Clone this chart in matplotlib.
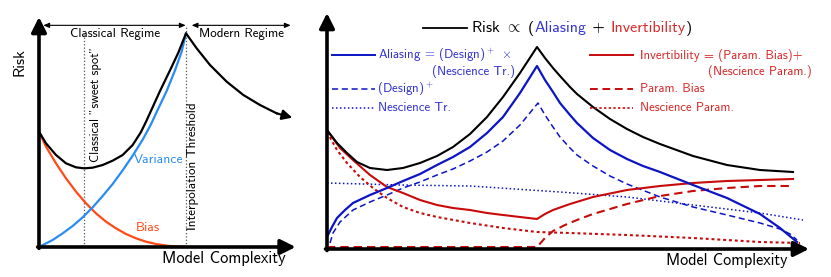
import matplotlib
matplotlib.use("Agg")
import matplotlib.pyplot as plt

plt.rcParams['font.family'] = ['cmss10', 'DejaVu Sans']
plt.rcParams['mathtext.fontset'] = 'cm'
plt.rcParams['axes.unicode_minus'] = False

# ---- left panel: classical bias / variance picture (units)
risk_x = [0, 21, 51, 81, 111, 136, 161, 191, 221, 251, 281, 306, 323, 343, 363,
          393, 418, 441, 473, 513, 563, 613, 663, 713, 745]
risk_y = [346, 311, 276, 251, 239, 236, 238, 246, 259, 276, 306, 345, 380, 424,
          468, 530, 583, 641, 596, 546, 496, 456, 426, 401, 392]
bias_x = [0, 21, 51, 81, 111, 141, 171, 201, 231, 261, 291, 321, 351, 391, 431,
          441]
bias_y = [346, 301, 251, 206, 166, 131, 101, 76, 56, 39, 26, 16, 9, 3, 1, 0]
var_x = [0, 41, 71, 101, 131, 161, 191, 221, 251, 281, 311, 336, 353, 383, 408,
         428, 441]
var_y = [0, 21, 41, 63, 89, 119, 153, 189, 230, 274, 322, 368, 405, 468, 530,
         586, 641]
sweet_spot = 136
interp_thr = 441

# ---- right panel: aliasing / invertibility decomposition
tot_x = [0, 10, 20, 30, 43, 60, 76, 93, 110, 126, 143, 160, 176, 193, 210, 218,
         226, 233, 243, 250, 266, 283, 300, 316, 333, 366, 400, 433, 466]
tot_y = [119, 106, 96, 87, 81, 79, 81, 86, 93, 102, 115, 132, 152, 176, 202,
         191, 181, 173, 162, 155, 142, 130, 120, 112, 105, 93, 84, 79, 77]
alias_x = [1, 5, 10, 18, 26, 43, 60, 76, 93, 110, 126, 143, 160, 176, 193, 210,
           218, 226, 233, 243, 250, 266, 283, 300, 316, 333, 366, 400, 433,
           453, 470]
alias_y = [14, 22, 31, 39, 46, 54, 61, 68, 75, 84, 92, 102, 116, 132, 156, 183,
           169, 157, 146, 134, 126, 111, 99, 90, 83, 77, 64, 51, 35, 21, 7]
design_x = [3, 6, 13, 26, 43, 60, 76, 93, 110, 126, 143, 160, 176, 193, 211,
            218, 226, 233, 243, 250, 266, 283, 300, 333, 366, 400, 433, 453,
            463, 470]
design_y = [6, 16, 27, 39, 47, 54, 61, 67, 74, 80, 88, 97, 108, 124, 146, 134,
            122, 112, 101, 94, 83, 73, 65, 52, 42, 34, 26, 20, 15, 9]
nestr_x = [0, 73, 143, 233, 300, 366, 433, 476]
nestr_y = [66, 64, 63, 57, 52, 44, 36, 29]
inv_x = [0, 13, 26, 43, 60, 76, 93, 110, 126, 143, 160, 176, 193, 210, 218,
         226, 243, 266, 300, 333, 366, 400, 433, 466]
inv_y = [119, 101, 89, 74, 62, 56, 49, 44, 41, 39, 36, 34, 32, 30, 35, 39, 45,
         52, 59, 63, 66, 68, 69, 70]
pbias_x = [0, 210, 218, 226, 238, 250, 266, 283, 300, 333, 366, 400, 433, 463]
pbias_y = [2, 2, 11, 18, 24, 29, 35, 40, 45, 53, 58, 61, 63, 63]
nespar_x = [0, 10, 20, 33, 46, 60, 76, 93, 110, 143, 176, 210, 243, 300, 366,
            433, 473]
nespar_y = [117, 99, 86, 72, 61, 51, 42, 36, 32, 26, 21, 17, 16, 14, 11, 7, 6]

c_var = '#2a8cf2'
c_bias = '#ff4a18'
c_blue = '#0c14c4'
c_bluetxt = '#3434d2'
c_red = '#c80a0a'
c_redtxt = '#d82a2a'

W, H = 831, 277
fig = plt.figure(figsize=(W / 100, H / 100), dpi=100)

# left axes: origin at pixel (39, 247), 3 units per pixel
ax1 = fig.add_axes([39 / W, 30 / H, 256 / W, 229 / H])
ax1.set_xlim(0, 768)
ax1.set_ylim(0, 687)
ax1.axis('off')

axis_arrow = dict(arrowstyle='-|>,head_length=0.9,head_width=0.45', lw=2.6,
                  color='k', shrinkA=0, shrinkB=0)
ax1.annotate('', xy=(770, 0), xytext=(-4, 0), arrowprops=axis_arrow,
             annotation_clip=False)
ax1.annotate('', xy=(0, 690), xytext=(0, -4), arrowprops=axis_arrow,
             annotation_clip=False)

ax1.plot([sweet_spot, sweet_spot], [0, 640], ':', color='#555555', lw=0.9)
ax1.plot([interp_thr, interp_thr], [0, 662], ':', color='#555555', lw=0.9)

ax1.plot(bias_x, bias_y, color=c_bias, lw=1.6, clip_on=False)
ax1.plot(var_x, var_y, color=c_var, lw=1.6, clip_on=False)
ax1.plot(risk_x[:-1], risk_y[:-1], color='k', lw=1.6, clip_on=False)
ax1.annotate('', xy=(risk_x[-1] + 15, risk_y[-1] - 4),
             xytext=(risk_x[-2], risk_y[-2]), annotation_clip=False,
             arrowprops=dict(arrowstyle='-|>,head_length=0.6,head_width=0.3',
                             lw=1.6, color='k', shrinkA=0, shrinkB=0))

dbl = dict(arrowstyle='<|-|>,head_length=0.35,head_width=0.15', lw=0.8,
           color='k', shrinkA=0, shrinkB=0)
ax1.annotate('', xy=(13, 665), xytext=(440, 665), arrowprops=dbl,
             annotation_clip=False)
ax1.annotate('', xy=(458, 665), xytext=(755, 665), arrowprops=dbl,
             annotation_clip=False)
ax1.text(228, 640, 'Classical Regime', ha='center', va='center', fontsize=9.4)
ax1.text(608, 640, 'Modern Regime', ha='center', va='center', fontsize=9.3)
ax1.text(170, 256, 'Classical "sweet spot"', rotation=90, ha='center',
         va='bottom', fontsize=9.1)
ax1.text(462, 52, 'Interpolation Threshold', rotation=90, ha='center',
         va='bottom', fontsize=9.4)
ax1.text(358, 262, 'Variance', color=c_var, ha='center', va='center',
         fontsize=9.8)
ax1.text(326, 58, 'Bias', color=c_bias, ha='center', va='center', fontsize=9.8)
ax1.text(-58, 555, 'Risk', rotation=90, ha='center', va='center', fontsize=11.5)
ax1.text(740, -33, 'Model Complexity', ha='right', va='center', fontsize=11.8)

# right axes: origin at pixel (327, 249), 1 unit per pixel
ax2 = fig.add_axes([327 / W, 28 / H, 480 / W, 234 / H])
ax2.set_xlim(0, 480)
ax2.set_ylim(0, 234)
ax2.axis('off')

ax2.annotate('', xy=(482, 0), xytext=(-1.5, 0), arrowprops=axis_arrow,
             annotation_clip=False)
ax2.annotate('', xy=(0, 236), xytext=(0, -1.5), arrowprops=axis_arrow,
             annotation_clip=False)

dots_b = (0, (1, 1.6))
dots_r = (0, (1.4, 1.4))
dash = (0, (4, 2.4))
ax2.plot(nestr_x, nestr_y, color=c_blue, lw=1.1, ls=dots_b, clip_on=False)
ax2.plot(nespar_x, nespar_y, color=c_red, lw=1.5, ls=dots_r, clip_on=False)
ax2.plot(pbias_x, pbias_y, color=c_red, lw=1.5, ls=dash, clip_on=False)
ax2.plot(design_x, design_y, color=c_blue, lw=1.1, ls=dash, clip_on=False)
ax2.plot(inv_x, inv_y, color=c_red, lw=1.5, clip_on=False)
ax2.plot(alias_x, alias_y, color=c_blue, lw=1.6, clip_on=False)
ax2.plot(tot_x, tot_y, color='k', lw=1.5, clip_on=False)

# multicoloured title line
ax2.plot([96, 140], [221, 221], color='k', lw=1.3, clip_on=False)
fig.canvas.draw()
renderer = fig.canvas.get_renderer()
pieces = [('Risk $\\propto$ (', 'k'), ('Aliasing', c_bluetxt), (' + ', 'k'),
          ('Invertibility', c_redtxt), (')', 'k')]
xd = 144
for s, c in pieces:
    t = ax2.text(xd, 217, s, color=c, ha='left', va='baseline', fontsize=11.5)
    bb = t.get_window_extent(renderer)
    xd = ax2.transData.inverted().transform((bb.x1, bb.y0))[0]

# legend, left block
ax2.plot([5, 48], [194, 194], color=c_blue, lw=1.4, clip_on=False)
ax2.text(51, 194, 'Aliasing$\\,=\\,$(Design)$^+\\;\\times$', color=c_bluetxt,
         va='center', fontsize=9.3)
ax2.text(188, 177, '(Nescience Tr.)', color=c_bluetxt, ha='right',
         va='center', fontsize=9.3)
ax2.plot([5, 48], [160, 160], color=c_blue, lw=1.1, ls=dash, clip_on=False)
ax2.text(50, 160, '(Design)$^+$', color=c_bluetxt, va='center', fontsize=9.3)
ax2.plot([5, 48], [141, 141], color=c_blue, lw=1.1, ls=dots_b, clip_on=False)
ax2.text(51, 141, 'Nescience Tr.', color=c_bluetxt, va='center', fontsize=9.3)

# legend, right block
ax2.plot([263, 306], [194, 194], color=c_red, lw=1.4, clip_on=False)
ax2.text(313, 194, 'Invertibility = (Param. Bias)+', color=c_redtxt,
         va='center', fontsize=9.2)
ax2.text(485, 177, '(Nescience Param.)', color=c_redtxt, ha='right',
         va='center', fontsize=9.2)
ax2.plot([263, 306], [160, 160], color=c_red, lw=1.4, ls=dash, clip_on=False)
ax2.text(313, 160, 'Param. Bias', color=c_redtxt, va='center', fontsize=9.2)
ax2.plot([263, 306], [141, 141], color=c_red, lw=1.2, ls=dots_r,
         clip_on=False)
ax2.text(313, 141, 'Nescience Param.', color=c_redtxt, va='center',
         fontsize=9.2)

ax2.text(461, -12, 'Model Complexity', ha='right', va='center', fontsize=11.6)

fig.savefig('out.png', dpi=100)
